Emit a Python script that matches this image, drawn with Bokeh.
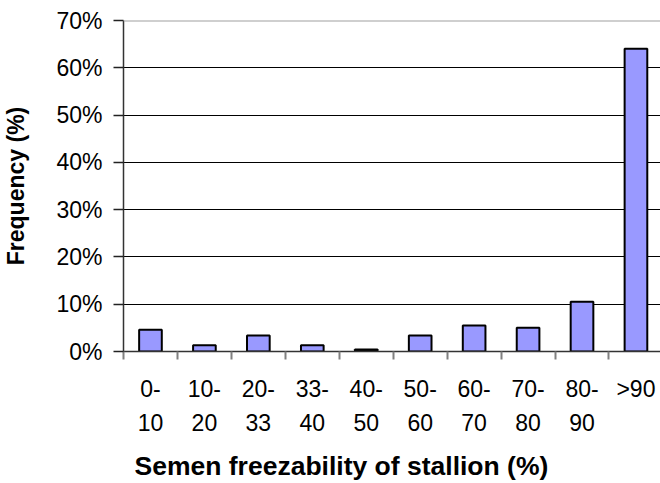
from bokeh.plotting import figure
from bokeh.models import Range1d, FixedTicker, LinearAxis, NumeralTickFormatter, Span
from bokeh.embed import file_html
from bokeh.resources import INLINE

# ---- data ----
labels_line1 = ["0-", "10-", "20-", "33-", "40-", "50-", "60-", "70-", "80-", ">90"]
labels_line2 = ["10", "20", "33", "40", "50", "60", "70", "80", "90", ""]
frequency = [0.046, 0.013, 0.034, 0.013, 0.004, 0.034, 0.055, 0.050, 0.105, 0.640]
y_ticks = [0.0, 0.1, 0.2, 0.3, 0.4, 0.5, 0.6, 0.7]
x_title = "Semen freezability of stallion (%)"
y_title = "Frequency (%)"

n = len(frequency)
centers = [i + 0.5 for i in range(n)]
boundaries = [float(i) for i in range(n + 1)]

FONT = "Liberation Sans"
TITLE_POS = 4.04  # horizontal position of the x title centre (in category units)

p = figure(width=660, height=483,
           x_range=Range1d(0, 9.955), y_range=Range1d(0, 0.7),
           output_backend="svg", toolbar_location=None,
           min_border_left=122, min_border_right=0,
           min_border_top=20, min_border_bottom=131)
p.title.visible = False
p.background_fill_color = "white"
p.border_fill_color = "white"
p.outline_line_color = None

p.vbar(x=centers, top=frequency, bottom=0, width=0.42,
       fill_color="#9999ff", line_color="black", line_width=2)

# grid
p.xgrid.visible = False
p.ygrid.ticker = FixedTicker(ticks=y_ticks[1:-1])
p.ygrid.grid_line_color = "black"
p.ygrid.grid_line_width = 1
p.add_layout(Span(location=y_ticks[-1], dimension="width",
                  line_color="#a0a0a0", line_width=2))

# y axis
ya = p.yaxis[0]
ya.ticker = FixedTicker(ticks=y_ticks)
ya.formatter = NumeralTickFormatter(format="0%")
ya.major_label_text_font = FONT
ya.major_label_text_font_size = "23px"
ya.major_label_text_color = "black"
ya.major_label_standoff = 11
ya.major_tick_out = 10
ya.major_tick_in = 0
ya.minor_tick_line_color = None
ya.axis_line_color = "#333333"
ya.axis_line_width = 1.5
ya.major_tick_line_color = "#222222"
ya.major_tick_line_width = 1.5
ya.axis_label = y_title
ya.axis_label_text_font = FONT
ya.axis_label_text_font_style = "bold"
ya.axis_label_text_font_size = "23px"
ya.axis_label_text_color = "black"
ya.axis_label_standoff = 24

# x axis, first line of labels + boundary ticks
xa = p.xaxis[0]
xa.ticker = FixedTicker(ticks=centers, minor_ticks=boundaries)
xa.major_label_overrides = {c: l for c, l in zip(centers, labels_line1)}
xa.major_label_text_font = FONT
xa.major_label_text_font_size = "23px"
xa.major_label_text_color = "black"
xa.major_label_standoff = 16
xa.major_tick_out = 0
xa.major_tick_in = 0
xa.major_tick_line_color = None
xa.minor_tick_out = 8
xa.minor_tick_in = 0
xa.minor_tick_line_color = "#808080"
xa.minor_tick_line_width = 2
xa.axis_line_color = "#333333"
xa.axis_line_width = 1.5

# x axis, second line of labels
xb = LinearAxis(ticker=FixedTicker(ticks=centers),
                major_label_overrides={c: l for c, l in zip(centers, labels_line2)})
xb.major_label_text_font = FONT
xb.major_label_text_font_size = "23px"
xb.major_label_text_color = "black"
xb.major_label_standoff = 9
xb.major_tick_out = 0
xb.major_tick_in = 0
xb.major_tick_line_color = None
xb.minor_tick_line_color = None
xb.axis_line_color = None
p.add_layout(xb, "below")

# x axis title, drawn as a single tick label so it can sit left of centre
xc = LinearAxis(ticker=FixedTicker(ticks=[TITLE_POS]),
                major_label_overrides={TITLE_POS: x_title})
xc.major_label_text_font = FONT
xc.major_label_text_font_style = "bold"
xc.major_label_text_font_size = "26.5px"
xc.major_label_text_color = "black"
xc.major_label_standoff = 17
xc.major_tick_out = 0
xc.major_tick_in = 0
xc.major_tick_line_color = None
xc.minor_tick_line_color = None
xc.axis_line_color = None
p.add_layout(xc, "below")

open("out.html", "w").write(file_html(p, INLINE))
